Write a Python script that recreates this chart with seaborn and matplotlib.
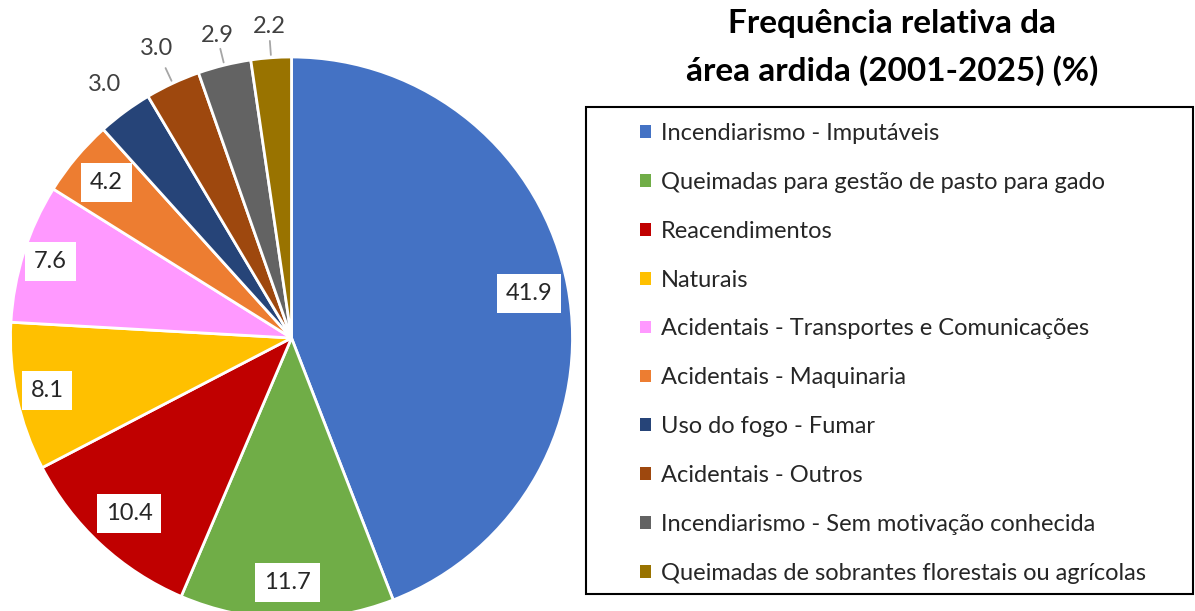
import numpy as np
import pandas as pd
import seaborn as sns
import matplotlib.pyplot as plt
from matplotlib.patches import Patch, Rectangle

# dados (frequência relativa da área ardida, %)
causas = ['Incendiarismo - Imputáveis',
          'Queimadas para gestão de pasto para gado',
          'Reacendimentos',
          'Naturais',
          'Acidentais - Transportes e Comunicações',
          'Acidentais - Maquinaria',
          'Uso do fogo - Fumar',
          'Acidentais - Outros',
          'Incendiarismo - Sem motivação conhecida',
          'Queimadas de sobrantes florestais ou agrícolas']
valores = [41.9, 11.7, 10.4, 8.1, 7.6, 4.2, 3.0, 3.0, 2.9, 2.2]
cores = ['#4472C4', '#70AD47', '#C00000', '#FFC000', '#FF99FF',
         '#ED7D31', '#264478', '#9E480E', '#636363', '#997300']

titulo = ['Frequência relativa da', 'área ardida (2001-2025) (%)']

# layout das etiquetas (raio relativo; >1 fica fora da fatia)
raio_etiqueta = [0.86, 0.87, 0.85, 0.89, 0.90, 0.86, 1.12, 1.135, 1.11, 1.11]
com_linha = [False] * 7 + [True, True, True]

sns.set_theme(style='white')
plt.rcParams['font.family'] = ['Lato', 'DejaVu Sans']

df = pd.DataFrame({'causa': causas, 'valor': valores})
paleta = sns.color_palette(cores)

W, H = 1195, 611
fig = plt.figure(figsize=(W / 100, H / 100), dpi=100)
fig.patch.set_facecolor('white')

# eixo quadrado para a pizza (centro ~ (291, 338) px, raio ~281 px)
cx, cy, R = 291.5, 338, 281
ax = fig.add_axes([(cx - R) / W, (H - cy - R) / H, 2 * R / W, 2 * R / H])

wedges, _ = ax.pie(df['valor'], colors=paleta, startangle=90, counterclock=False,
                   radius=1, wedgeprops=dict(edgecolor='white', linewidth=2))
ax.set_xlim(-1, 1)
ax.set_ylim(-1, 1)
ax.set_aspect('equal')
ax.axis('off')

for w, v, r, linha in zip(wedges, df['valor'], raio_etiqueta, com_linha):
    ang = np.deg2rad((w.theta1 + w.theta2) / 2)
    x, y = r * np.cos(ang), r * np.sin(ang)
    if r < 1:
        ax.text(x, y, f'{v:.1f}', ha='center', va='center', fontsize=17, color='#262626',
                bbox=dict(boxstyle='square,pad=0.38', facecolor='white', edgecolor='none'))
    else:
        ax.text(x, y, f'{v:.1f}', ha='center', va='center', fontsize=17, color='#404040')
        if linha:
            ax.plot([1.01 * np.cos(ang), 1.06 * np.cos(ang)],
                    [1.01 * np.sin(ang), 1.06 * np.sin(ang)],
                    color='#A6A6A6', lw=1.3, clip_on=False)

# título
fig.text(892 / W, 1 - 23 / H, titulo[0], ha='center', va='center',
         fontsize=24, fontweight='bold', color='black')
fig.text(892 / W, 1 - 71 / H, titulo[1], ha='center', va='center',
         fontsize=24, fontweight='bold', color='black')

# legenda
handles = [Patch(facecolor=c, edgecolor='none') for c in paleta]
leg = fig.legend(handles, causas, loc='upper left',
                 bbox_to_anchor=(640 / W, 1 - 123 / H), frameon=False,
                 fontsize=17, handlelength=0.45, handleheight=0.45,
                 handletextpad=0.45, labelspacing=1.18, borderpad=0, borderaxespad=0)
for t in leg.get_texts():
    t.set_color('#262626')

fig.patches.append(Rectangle((586 / W, 1 - 594 / H), (1193 - 586) / W, (594 - 107) / H,
                             transform=fig.transFigure, fill=False,
                             edgecolor='black', linewidth=1.5))

plt.savefig('out.png', dpi=100)
